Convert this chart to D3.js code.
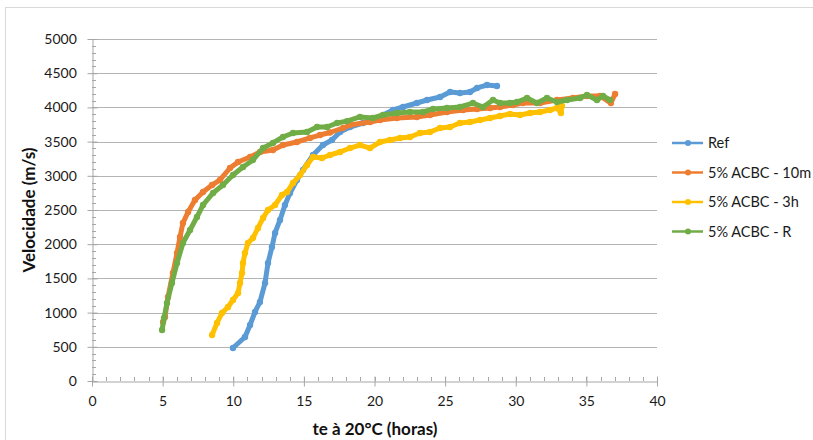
<!DOCTYPE html>
<html><head><meta charset="utf-8">
<script src="https://cdn.jsdelivr.net/npm/d3@7"></script>
<style>body{margin:0;background:#fff}svg{display:block}</style>
</head><body><svg id="c" width="813" height="440"></svg>
<script>
const seriesNames = ["Ref", "5% ACBC - 10m", "5% ACBC - 3h", "5% ACBC - R"];
const seriesColors = ["#5b9bd5", "#ed7d31", "#ffc000", "#70ad47"];
const refX = [9.98,10.83,11.19,11.54,11.89,12.25,12.46,12.74,12.96,13.31,13.66,14.02,14.51,14.94,15.65,16.35,16.99,17.56,18.27,19.19,20.18,21.31,22.02,23.0,23.72,24.64,25.35,26.05,26.76,27.26,27.96,28.67];
const refY = [482,643,819,1009,1155,1433,1725,1959,2164,2354,2573,2749,2939,3085,3304,3450,3523,3640,3713,3772,3845,3962,4006,4064,4108,4152,4225,4211,4225,4284,4327,4313];
const m10X = [5.03,5.17,5.38,5.73,6.02,6.23,6.44,6.80,7.29,7.86,8.50,9.06,9.77,10.34,11.19,11.89,12.81,13.52,14.51,15.43,16.14,16.85,17.77,18.27,19.68,20.39,21.59,23.0,23.93,25.13,26.27,27.26,28.18,28.88,29.81,30.51,31.72,32.92,34.05,35.04,35.96,36.74,37.03];
const m10Y = [863,936,1228,1579,1871,2105,2310,2471,2646,2763,2865,2939,3114,3202,3275,3348,3377,3450,3494,3553,3596,3633,3699,3743,3787,3816,3845,3860,3889,3933,3962,3977,3991,4006,4035,4064,4064,4108,4137,4167,4167,4064,4196];
const h3X = [8.50,8.85,9.20,9.63,9.98,10.34,10.48,10.62,10.69,10.83,11.04,11.40,11.75,12.11,12.46,12.96,13.45,13.81,14.23,14.73,15.22,15.65,16.28,16.85,17.56,18.27,18.97,19.68,20.39,21.10,21.81,22.51,23.22,23.93,24.64,25.35,26.05,26.76,27.47,28.18,28.88,29.59,30.30,31.01,31.72,32.42,32.92,33.20,33.27];
const h3Y = [673,848,994,1082,1184,1287,1433,1579,1725,1871,2018,2091,2237,2383,2500,2573,2719,2763,2895,3012,3158,3275,3260,3304,3348,3406,3450,3406,3494,3523,3553,3567,3626,3640,3699,3713,3772,3787,3816,3845,3874,3904,3889,3918,3933,3962,3991,3918,4020];
const rX = [4.96,5.10,5.31,5.66,6.02,6.44,6.94,7.43,7.86,8.57,9.27,9.98,10.69,11.40,12.11,12.81,13.52,14.23,15.22,15.93,16.64,17.35,18.05,18.97,19.89,20.60,21.59,22.51,23.43,24.14,25.13,26.05,26.97,27.68,28.39,28.88,29.59,30.09,30.80,31.50,32.21,32.92,33.63,34.55,35.04,35.75,36.18,36.67];
const rY = [746,920,1140,1433,1725,2018,2208,2398,2573,2749,2865,3012,3129,3231,3406,3480,3567,3626,3640,3713,3713,3772,3800,3860,3845,3889,3918,3933,3933,3977,3991,4006,4064,4006,4108,4064,4064,4079,4137,4064,4137,4079,4108,4137,4181,4108,4167,4108];
const xTicks = [0,5,10,15,20,25,30,35,40];
const yTicks = [0,500,1000,1500,2000,2500,3000,3500,4000,4500,5000];

const seriesX = [refX, m10X, h3X, rX];
const seriesY = [refY, m10Y, h3Y, rY];
const drawOrder = [0, 2, 1, 3];

const svg = d3.select("#c");
const font = "Lato, 'Open Sans', sans-serif";
const L = 92, R = 657, T = 39, B = 381;
const x = d3.scaleLinear().domain([0, 40]).range([L, R]);
const y = d3.scaleLinear().domain([0, 5000]).range([B, T]);

svg.append("rect").attr("x", 5.5).attr("y", 7.5).attr("width", 830).attr("height", 460)
  .attr("fill", "#fff").attr("stroke", "#d9d9d9");

svg.append("g").selectAll("line").data(yTicks.filter(v => v > 0)).join("line")
  .attr("x1", L).attr("x2", R).attr("y1", d => Math.round(y(d)) + 0.5).attr("y2", d => Math.round(y(d)) + 0.5)
  .attr("stroke", "#b4b4b4").attr("stroke-width", 1);

const minorX = d3.range(0, 40.01, 1);
svg.append("g").selectAll("line").data(minorX).join("line")
  .attr("x1", d => Math.round(x(d)) + 0.5).attr("x2", d => Math.round(x(d)) + 0.5)
  .attr("y1", B).attr("y2", B - 4).attr("stroke", "#a6a6a6");
const minorY = d3.range(0, 5001, 100);
svg.append("g").selectAll("line").data(minorY).join("line")
  .attr("y1", d => Math.round(y(d)) + 0.5).attr("y2", d => Math.round(y(d)) + 0.5)
  .attr("x1", L).attr("x2", L + 4).attr("stroke", "#a6a6a6");

const xAxis = svg.append("g").attr("transform", `translate(0,${Math.round(B) + 0.5})`)
  .call(d3.axisBottom(x).tickValues(xTicks).tickFormat(d3.format("d")).tickSize(5).tickSizeOuter(0));
const yAxis = svg.append("g").attr("transform", `translate(${L + 0.5},0)`)
  .call(d3.axisLeft(y).tickValues(yTicks).tickFormat(d3.format("d")).tickSize(5).tickSizeOuter(0));
[xAxis, yAxis].forEach(g => {
  g.select(".domain").attr("stroke", "#a6a6a6");
  g.selectAll(".tick line").attr("stroke", "#a6a6a6");
  g.selectAll("text").attr("font-family", font).attr("font-size", 14).attr("fill", "#1a1a1a");
});
xAxis.selectAll(".tick line").attr("y1", -5);
yAxis.selectAll(".tick line").attr("x1", 5);
xAxis.selectAll("text").attr("dy", "1.15em");
yAxis.selectAll("text").attr("dx", "-0.55em");

const line = d3.line().x(d => x(d[0])).y(d => y(d[1]));
drawOrder.forEach(i => {
  const pts = seriesX[i].map((v, k) => [v, seriesY[i][k]]);
  const g = svg.append("g");
  g.append("path").datum(pts).attr("d", line).attr("fill", "none")
    .attr("stroke", seriesColors[i]).attr("stroke-width", 5).attr("stroke-linejoin", "round").attr("stroke-linecap", "round");
  g.selectAll("circle").data(pts).join("circle")
    .attr("cx", d => x(d[0])).attr("cy", d => y(d[1])).attr("r", 3.2).attr("fill", seriesColors[i]);
});

const lg = svg.append("g");
seriesNames.forEach((n, i) => {
  const yy = 143 + i * 29.5;
  lg.append("line").attr("x1", 672).attr("x2", 703).attr("y1", yy).attr("y2", yy)
    .attr("stroke", seriesColors[i]).attr("stroke-width", 2.5);
  lg.append("circle").attr("cx", 688).attr("cy", yy).attr("r", 3).attr("fill", seriesColors[i]);
  lg.append("text").attr("x", 708).attr("y", yy + 5).text(n)
    .attr("font-family", font).attr("font-size", 14.5).attr("fill", "#1a1a1a");
});

svg.append("text").attr("x", 375).attr("y", 435).attr("text-anchor", "middle")
  .attr("font-family", font).attr("font-size", 17).attr("font-weight", "bold").attr("fill", "#111")
  .text("te à 20°C (horas)");
svg.append("text").attr("transform", "translate(35,210) rotate(-90)").attr("text-anchor", "middle")
  .attr("font-family", font).attr("font-size", 17).attr("font-weight", "bold").attr("fill", "#111")
  .text("Velocidade (m/s)");
</script></body></html>
